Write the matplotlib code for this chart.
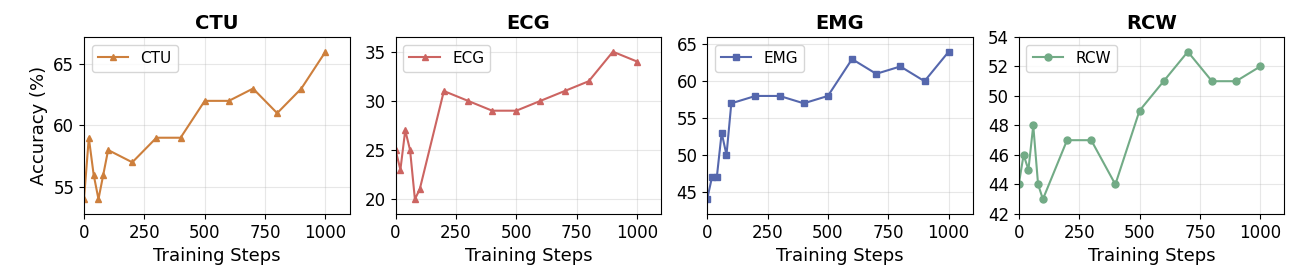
import matplotlib
matplotlib.use('Agg')
import matplotlib.pyplot as plt

steps = [0, 20, 40, 60, 80, 100, 200, 300, 400, 500, 600, 700, 800, 900, 1000]

ctu = [54, 59, 56, 54, 56, 58, 57, 59, 59, 62, 62, 63, 61, 63, 66]
ecg = [25, 23, 27, 25, 20, 21, 31, 30, 29, 29, 30, 31, 32, 35, 34]
emg = [44, 47, 47, 53, 50, 57, 58, 58, 57, 58, 63, 61, 62, 60, 64]
rcw = [44, 46, 45, 48, 44, 43, 47, 47, 44, 49, 51, 53, 51, 51, 52]

names = ['CTU', 'ECG', 'EMG', 'RCW']
series = [ctu, ecg, emg, rcw]
colors = ['#CD7F3C', '#CC6461', '#5567AD', '#72AB86']
markers = ['^', '^', 's', 'o']

fig, axes = plt.subplots(1, 4, figsize=(13, 2.8), dpi=100)
fig.subplots_adjust(left=0.0646, right=0.988, top=0.868, bottom=0.236, wspace=0.173)

for ax, name, vals, c, m in zip(axes, names, series, colors, markers):
    ax.plot(steps, vals, color=c, marker=m, markersize=5, linewidth=1.5, label=name)
    ax.set_title(name, fontsize=14, fontweight='bold')
    ax.set_xlabel('Training Steps', fontsize=13)
    ax.set_xlim(0, 1100)
    ax.margins(y=0.1)
    ax.set_xticks([0, 250, 500, 750, 1000])
    ax.tick_params(labelsize=12)
    ax.grid(True, alpha=0.3)
    ax.legend(loc='upper left', fontsize=11)

axes[0].set_ylabel('Accuracy (%)', fontsize=13)
axes[3].set_yticks([42, 44, 46, 48, 50, 52, 54])

fig.savefig('out.png')
